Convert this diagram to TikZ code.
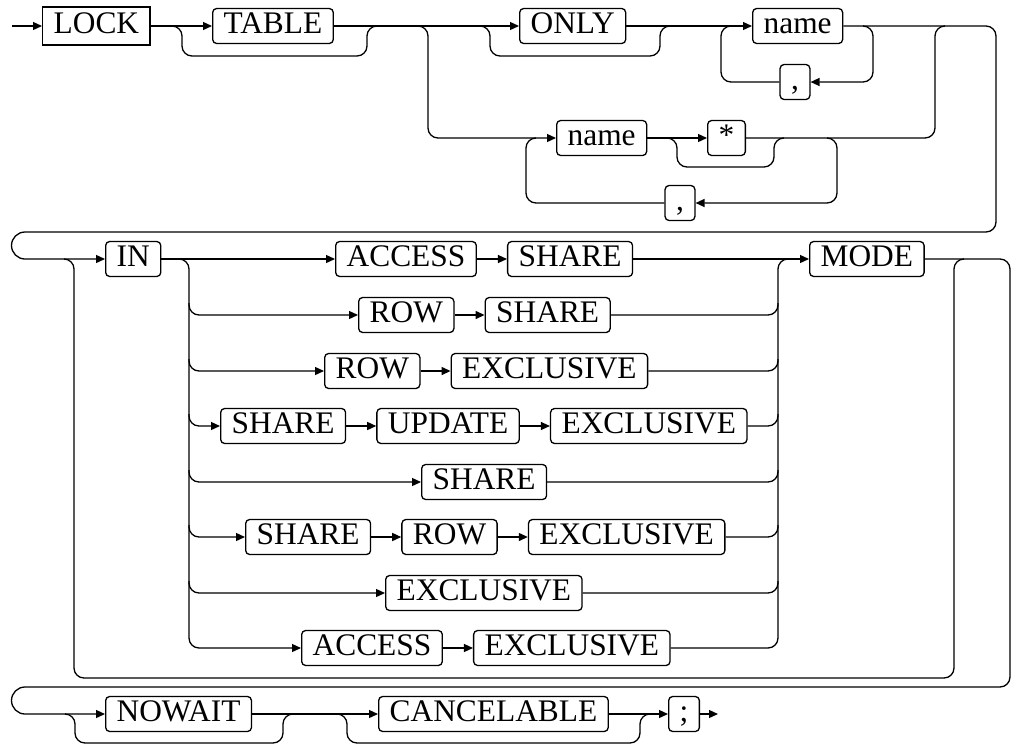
\documentclass[tikz,border=0pt]{standalone}
\usepackage{fontspec}
\setmainfont{Liberation Serif}
\usetikzlibrary{arrows.meta,positioning}

\begin{document}
\begin{tikzpicture}[x=0.5pt,y=-0.5pt,line width=0.65pt,
    font=\fontsize{15.7pt}{18pt}\selectfont,
    kw/.style={draw,rounded corners=2pt,inner xsep=5.5pt,inner ysep=0pt,
        minimum height=17.5pt,text height=10.6pt,text depth=3pt},
    kwsq/.style={kw,sharp corners,minimum height=19pt},
    arr/.style={-{Triangle[length=4.5pt,width=4pt]}},
    rail/.style={rounded corners=5pt}]
    \useasboundingbox (0,0) rectangle (1013,745);

    % first line
    \coordinate (go) at (12,26);
    \node[kwsq,anchor=west] (lock) at (42,26) {LOCK};
    \node[kw,anchor=west] (table) at (212,26) {TABLE};
    \node[kw,anchor=west] (only) at (519,26) {ONLY};
    \node[kw,anchor=west] (nameA) at (752,26) {name};
    \node[kw] (commaA) at (795,82) {,};
    \node[kw,anchor=west] (nameB) at (556,138) {name};
    \node[kw,anchor=west] (star) at (707,138) {*};
    \node[kw] (commaB) at (680,203) {,};

    \draw[arr] (go) -- (lock.west);
    \draw[arr] (lock.east) -- (table.west);
    \draw[rail] (172,26) -- (182,26) |- (367,56) -- (367,26) -- (377,26);
    \draw[arr] (table.east) -- (only.west);
    \draw[rail] (480,26) -- (490,26) |- (660,56) -- (660,26) -- (670,26);
    \draw[arr] (only.east) -- (nameA.west);
    \draw[arr,rail] (863,26) -- (873,26) |- (commaA.east);
    \draw[rail] (commaA.west) -| (721,26) -- (731,26);

    \draw[arr,rail] (418,26) -- (428,26) |- (nameB.west);
    \draw[arr] (nameB.east) -- (star.west);
    \draw[rail] (667,138) -- (677,138) |- (774,167) -- (774,138) -- (784,138);
    \draw[arr,rail] (827,138) -- (837,138) |- (commaB.east);
    \draw[rail] (commaB.west) -| (526,138) -- (536,138);
    \draw[rail] (star.east) -| (935,26) -- (945,26);

    % second line
    \node[kw,anchor=west] (inkw) at (105,259) {IN};
    \node[kw,anchor=west] (mode) at (809,259) {MODE};

    \draw[rail] (nameA.east) -| (996,232) -- (25,232);
    \draw[arr] (25,232) arc[start angle=90,delta angle=180,radius=6.75pt] -- (inkw.west);

    \node[kw,anchor=west] (aA) at (335,259) {ACCESS};
    \node[kw,right=15pt of aA] (aB) {SHARE};
    \node[kw,anchor=west] (bA) at (358,315) {ROW};
    \node[kw,right=15pt of bA] (bB) {SHARE};
    \node[kw,anchor=west] (cA) at (324,371) {ROW};
    \node[kw,right=15pt of cA] (cB) {EXCLUSIVE};
    \node[kw,anchor=west] (dA) at (220,426) {SHARE};
    \node[kw,right=15pt of dA] (dB) {UPDATE};
    \node[kw,right=15pt of dB] (dC) {EXCLUSIVE};
    \node[kw,anchor=west] (eA) at (421,482) {SHARE};
    \node[kw,anchor=west] (fA) at (245,537) {SHARE};
    \node[kw,right=15pt of fA] (fB) {ROW};
    \node[kw,right=15pt of fB] (fC) {EXCLUSIVE};
    \node[kw,anchor=west] (gA) at (385,593) {EXCLUSIVE};
    \node[kw,anchor=west] (hA) at (301,648) {ACCESS};
    \node[kw,right=15pt of hA] (hB) {EXCLUSIVE};

    \draw[rail] (64,259) -- (74,259) |- (954,678) -- (954,259) -- (964,259);
    \draw[arr] (inkw.east) -- (aA.west);
    \draw[arr] (aA.east) -- (aB.west);
    \draw[arr] (aB.east) -- (mode.west);
    \draw[arr,rail] (179,259) -- (189,259) |- (hA.west);
    \draw[arr] (hA.east) -- (hB.west);
    \draw[rail] (hB.east) -| (778,259) -- (788,259);

    \draw[arr,rail] (189,303) |- (bA.west);
    \draw[arr] (bA.east) -- (bB.west);
    \draw[rail] (bB.east) -| (778,303);
    \draw[arr,rail] (189,359) |- (cA.west);
    \draw[arr] (cA.east) -- (cB.west);
    \draw[rail] (cB.east) -| (778,359);
    \draw[arr,rail] (189,414) |- (dA.west);
    \draw[arr] (dA.east) -- (dB.west);
    \draw[arr] (dB.east) -- (dC.west);
    \draw[rail] (dC.east) -| (778,414);
    \draw[arr,rail] (189,470) |- (eA.west);
    \draw[rail] (eA.east) -| (778,470);
    \draw[arr,rail] (189,525) |- (fA.west);
    \draw[arr] (fA.east) -- (fB.west);
    \draw[arr] (fB.east) -- (fC.west);
    \draw[rail] (fC.east) -| (778,525);
    \draw[arr,rail] (189,581) |- (gA.west);
    \draw[rail] (gA.east) -| (778,581);

    % third line
    \node[kw,anchor=west] (nowait) at (105,714) {NOWAIT};
    \node[kw,anchor=west] (cancel) at (378,714) {CANCELABLE};
    \node[kw,anchor=west] (semi) at (668,714) {;};
    \coordinate (stop) at (718,714);

    \draw[rail] (mode.east) -| (1010,687) -- (25,687);
    \draw[arr] (25,687) arc[start angle=90,delta angle=180,radius=6.75pt] -- (nowait.west);

    \draw[rail] (65,714) -- (75,714) |- (283,743) -- (283,714) -- (293,714);
    \draw[arr] (nowait.east) -- (cancel.west);
    \draw[rail] (337,714) -- (347,714) |- (640,743) -- (640,714) -- (650,714);
    \draw[arr] (cancel.east) -- (semi.west);
    \draw[arr] (semi.east) -- (stop);
\end{tikzpicture}
\end{document}
